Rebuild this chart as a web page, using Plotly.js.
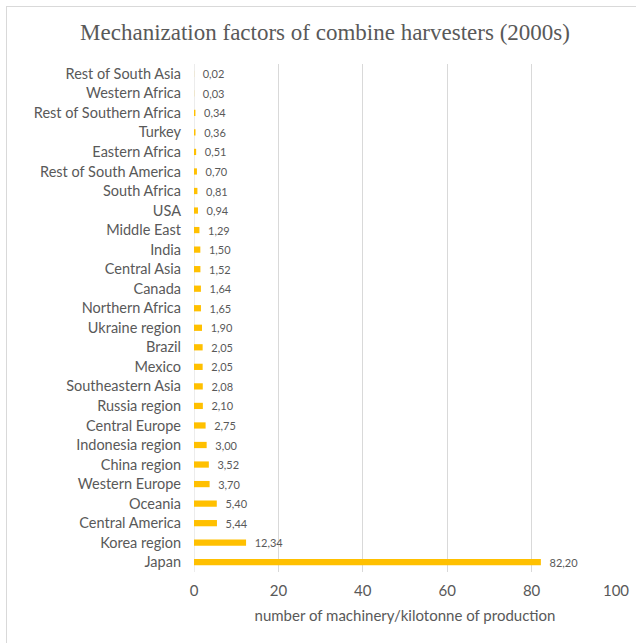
<!DOCTYPE html>
<html>
<head>
<meta charset="utf-8">
<script src="https://cdn.plot.ly/plotly-3.0.1.min.js"></script>
<style>
html,body{margin:0;padding:0;background:#fff;overflow:hidden;}
#frame{position:absolute;left:6px;top:6px;width:700px;height:700px;border-left:1px solid #d9d9d9;border-top:1px solid #d9d9d9;}
#chart{position:absolute;left:0;top:0;width:636px;height:643px;}
</style>
</head>
<body>
<div id="frame"></div>
<div id="chart"></div>
<script>
const regions = ["Rest of South Asia","Western Africa","Rest of Southern Africa","Turkey","Eastern Africa","Rest of South America","South Africa","USA","Middle East","India","Central Asia","Canada","Northern Africa","Ukraine region","Brazil","Mexico","Southeastern Asia","Russia region","Central Europe","Indonesia region","China region","Western Europe","Oceania","Central America","Korea region","Japan"];
const factors = [0.02,0.03,0.34,0.36,0.51,0.70,0.81,0.94,1.29,1.50,1.52,1.64,1.65,1.90,2.05,2.05,2.08,2.10,2.75,3.00,3.52,3.70,5.40,5.44,12.34,82.20];
const xTicks = [0,20,40,60,80,100];

const labels = factors.map(v => '  ' + v.toFixed(2).replace('.', ','));

const trace = {
  type: 'bar',
  orientation: 'h',
  y: regions,
  x: factors,
  text: labels,
  textposition: 'outside',
  constraintext: 'none',
  cliponaxis: false,
  textfont: {family: 'Lato, sans-serif', size: 11, color: '#595959'},
  marker: {color: '#FFC000'},
  hoverinfo: 'none'
};

const layout = {
  width: 636, height: 643,
  margin: {l: 194, r: 20, t: 64, b: 71},
  paper_bgcolor: 'rgba(0,0,0,0)',
  plot_bgcolor: 'rgba(0,0,0,0)',
  bargap: 0.68,
  showlegend: false,
  title: {
    text: 'Mechanization factors of combine harvesters (2000s)',
    font: {family: 'Liberation Serif, serif', size: 23, color: '#595959'},
    x: 0.511, xanchor: 'center', y: 0.95, yanchor: 'middle'
  },
  xaxis: {
    range: [0, 100],
    tickvals: xTicks,
    ticktext: xTicks.map(String),
    showgrid: true, gridcolor: '#d9d9d9', gridwidth: 1,
    zeroline: false, showline: false, ticks: '',
    ticklabelstandoff: 8,
    tickfont: {family: 'Lato, sans-serif', size: 15, color: '#595959'},
    title: {text: 'number of machinery/kilotonne of production', standoff: 12,
            font: {family: 'Lato, sans-serif', size: 15, color: '#595959'}}
  },
  yaxis: {
    type: 'category',
    categoryorder: 'array', categoryarray: regions,
    autorange: 'reversed',
    showgrid: false, zeroline: false, showline: false, ticks: '',
    ticklabelstandoff: 12,
    tickfont: {family: 'Lato, sans-serif', size: 14.5, color: '#595959'}
  },
  shapes: [{type: 'line', xref: 'x', yref: 'paper', x0: 0, x1: 0, y0: 0, y1: 1,
            line: {color: '#d9d9d9', width: 1}, layer: 'below'}]
};

Plotly.newPlot('chart', [trace], layout, {displayModeBar: false, staticPlot: true});
</script>
</body>
</html>
